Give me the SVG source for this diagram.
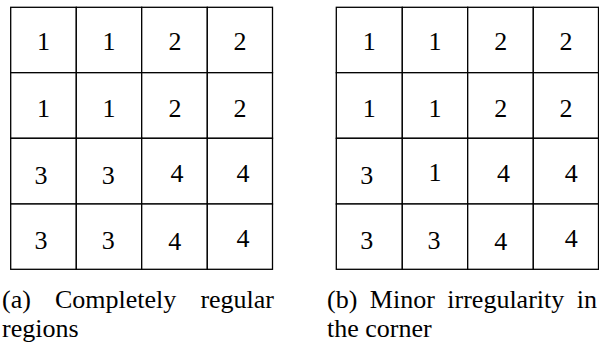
<svg xmlns="http://www.w3.org/2000/svg" width="599" height="345" viewBox="0 0 599 345">
<style>
.c rect{fill:#fff;stroke:#000;stroke-width:1.3}
.c text{font-family:"Liberation Serif","Times New Roman",serif;font-size:26px;fill:#000;text-anchor:middle}
.cap text{font-family:"Liberation Serif","Times New Roman",serif;font-size:26px;fill:#000}
</style>
<rect width="599" height="345" fill="#fff"/>
<g id="gridA">
<g id="a11" class="c"><rect x="10.7" y="7.3" width="65.6" height="65.4"/><text x="43.5" y="50">1</text></g>
<g id="a12" class="c"><rect x="76.3" y="7.3" width="65.4" height="65.4"/><text x="109" y="50">1</text></g>
<g id="a13" class="c"><rect x="141.7" y="7.3" width="65.6" height="65.4"/><text x="175" y="50">2</text></g>
<g id="a14" class="c"><rect x="207.3" y="7.3" width="65.2" height="65.4"/><text x="240" y="50">2</text></g>
<g id="a21" class="c"><rect x="10.7" y="72.7" width="65.6" height="65.6"/><text x="43.5" y="116.5">1</text></g>
<g id="a22" class="c"><rect x="76.3" y="72.7" width="65.4" height="65.6"/><text x="109" y="116.5">1</text></g>
<g id="a23" class="c"><rect x="141.7" y="72.7" width="65.6" height="65.6"/><text x="175" y="116.5">2</text></g>
<g id="a24" class="c"><rect x="207.3" y="72.7" width="65.2" height="65.6"/><text x="240" y="116.5">2</text></g>
<g id="a31" class="c"><rect x="10.7" y="138.3" width="65.6" height="65.7"/><text x="41" y="184">3</text></g>
<g id="a32" class="c"><rect x="76.3" y="138.3" width="65.4" height="65.7"/><text x="108.3" y="184">3</text></g>
<g id="a33" class="c"><rect x="141.7" y="138.3" width="65.6" height="65.7"/><text x="177" y="181.7">4</text></g>
<g id="a34" class="c"><rect x="207.3" y="138.3" width="65.2" height="65.7"/><text x="243" y="181.7">4</text></g>
<g id="a41" class="c"><rect x="10.7" y="204" width="65.6" height="65.3"/><text x="41" y="249">3</text></g>
<g id="a42" class="c"><rect x="76.3" y="204" width="65.4" height="65.3"/><text x="108.3" y="249">3</text></g>
<g id="a43" class="c"><rect x="141.7" y="204" width="65.6" height="65.3"/><text x="174.7" y="250">4</text></g>
<g id="a44" class="c"><rect x="207.3" y="204" width="65.2" height="65.3"/><text x="243" y="246.7">4</text></g>
</g>
<g id="gridB">
<g id="b11" class="c"><rect x="336.3" y="7.3" width="66" height="65.4"/><text x="369.3" y="50">1</text></g>
<g id="b12" class="c"><rect x="402.3" y="7.3" width="65.4" height="65.4"/><text x="435" y="50">1</text></g>
<g id="b13" class="c"><rect x="467.7" y="7.3" width="65.6" height="65.4"/><text x="500.8" y="50">2</text></g>
<g id="b14" class="c"><rect x="533.3" y="7.3" width="65.2" height="65.4"/><text x="566" y="50">2</text></g>
<g id="b21" class="c"><rect x="336.3" y="72.7" width="66" height="65.6"/><text x="369.3" y="116.5">1</text></g>
<g id="b22" class="c"><rect x="402.3" y="72.7" width="65.4" height="65.6"/><text x="435" y="116.5">1</text></g>
<g id="b23" class="c"><rect x="467.7" y="72.7" width="65.6" height="65.6"/><text x="500.8" y="116.5">2</text></g>
<g id="b24" class="c"><rect x="533.3" y="72.7" width="65.2" height="65.6"/><text x="566" y="116.5">2</text></g>
<g id="b31" class="c"><rect x="336.3" y="138.3" width="66" height="65.7"/><text x="366.7" y="184">3</text></g>
<g id="b32" class="c"><rect x="402.3" y="138.3" width="65.4" height="65.7"/><text x="435" y="180.7">1</text></g>
<g id="b33" class="c"><rect x="467.7" y="138.3" width="65.6" height="65.7"/><text x="503.5" y="181.7">4</text></g>
<g id="b34" class="c"><rect x="533.3" y="138.3" width="65.2" height="65.7"/><text x="571.3" y="181.7">4</text></g>
<g id="b41" class="c"><rect x="336.3" y="204" width="66" height="65.3"/><text x="366.7" y="249">3</text></g>
<g id="b42" class="c"><rect x="402.3" y="204" width="65.4" height="65.3"/><text x="434" y="249">3</text></g>
<g id="b43" class="c"><rect x="467.7" y="204" width="65.6" height="65.3"/><text x="500.8" y="250">4</text></g>
<g id="b44" class="c"><rect x="533.3" y="204" width="65.2" height="65.3"/><text x="571.3" y="246.7">4</text></g>
</g>
<g id="captionA" class="cap">
<text x="2" y="308.3">(a)</text>
<text x="55" y="308.3">Completely</text>
<text x="274" y="308.3" text-anchor="end">regular</text>
<text x="2" y="337">regions</text>
</g>
<g id="captionB" class="cap">
<text x="327" y="308.3">(b)</text>
<text x="369.8" y="308.3">Minor</text>
<text x="447.3" y="308.3">irregularity</text>
<text x="597" y="308.3" text-anchor="end">in</text>
<text x="327" y="337">the corner</text>
</g>
</svg>
